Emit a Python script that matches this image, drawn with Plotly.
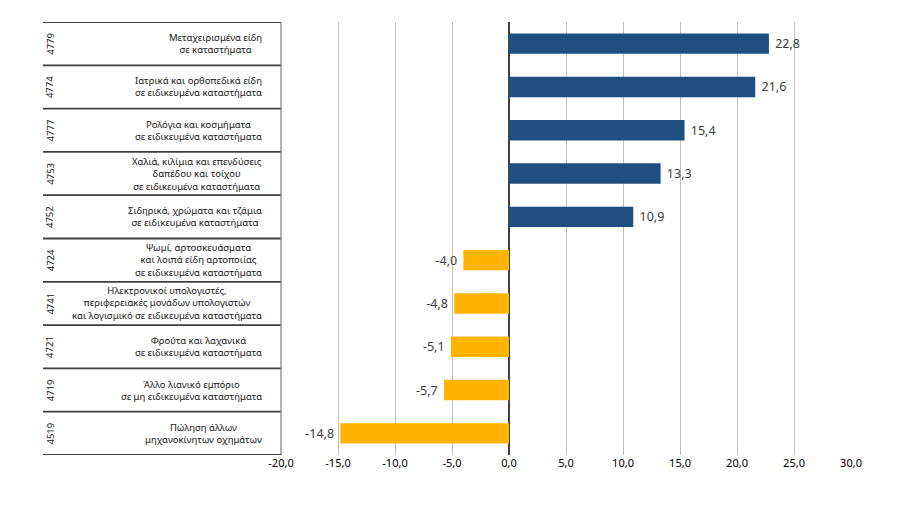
import plotly.graph_objects as go

# Κωδικοί κλάδων και περιγραφές (από πάνω προς τα κάτω)
codes = ['4779', '4774', '4777', '4753', '4752', '4724', '4741', '4721', '4719', '4519']
labels = [
    'Μεταχειρισμένα είδη<br>σε καταστήματα',
    'Ιατρικά και ορθοπεδικά είδη<br>σε ειδικευμένα καταστήματα',
    'Ρολόγια και κοσμήματα<br>σε ειδικευμένα καταστήματα',
    'Χαλιά, κιλίμια και επενδύσεις<br>δαπέδου και τοίχου<br>σε ειδικευμένα καταστήματα',
    'Σιδηρικά, χρώματα και τζάμια<br>σε ειδικευμένα καταστήματα',
    'Ψωμί, αρτοσκευάσματα<br>και λοιπά είδη αρτοποιίας<br>σε ειδικευμένα καταστήματα',
    'Ηλεκτρονικοί υπολογιστές,<br>περιφερειακές μονάδων υπολογιστών<br>και λογισμικό σε ειδικευμένα καταστήματα',
    'Φρούτα και λαχανικά<br>σε ειδικευμένα καταστήματα',
    'Άλλο λιανικό εμπόριο<br>σε μη ειδικευμένα καταστήματα',
    'Πώληση άλλων<br>μηχανοκίνητων οχημάτων',
]
changes = [22.8, 21.6, 15.4, 13.3, 10.9, -4.0, -4.8, -5.1, -5.7, -14.8]

tick_vals = [-20, -15, -10, -5, 0, 5, 10, 15, 20, 25, 30]
tick_labels = ['-20,0', '-15,0', '-10,0', '-5,0', '0,0', '5,0', '10,0',
               '15,0', '20,0', '25,0', '30,0']

BLUE = '#1F4E80'
ORANGE = '#FFB400'
FONT = 'Noto Sans'
NBSP = '\u00a0'

colors = [BLUE if v >= 0 else ORANGE for v in changes]
texts = []
for v in changes:
    s = f'{v:.1f}'.replace('.', ',')
    texts.append(NBSP + s if v >= 0 else s + NBSP)

fig = go.Figure()
fig.add_trace(go.Bar(
    x=changes,
    y=codes,
    orientation='h',
    marker=dict(color=colors, line=dict(width=0)),
    width=0.47,
    text=texts,
    textposition='outside',
    textfont=dict(family=FONT, size=12.5, color='#404040'),
    cliponaxis=False,
    hoverinfo='skip',
))

# Πίνακας αριστερά: γραμμές, κωδικοί και περιγραφές
TABLE_LEFT = -0.4175
shapes = []
for i in range(len(codes) + 1):
    shapes.append(dict(type='line', xref='paper', yref='y',
                       x0=TABLE_LEFT, x1=0, y0=i - 0.5, y1=i - 0.5,
                       line=dict(color='#404040', width=1.8)))
shapes.append(dict(type='line', xref='paper', yref='y',
                   x0=0, x1=0, y0=-0.5, y1=len(codes) - 0.5,
                   line=dict(color='#7F7F7F', width=1.2)))

annotations = []
for i, (code, lab) in enumerate(zip(codes, labels)):
    annotations.append(dict(xref='paper', yref='y', x=-0.405, y=i,
                            xanchor='center',
                            text=code, showarrow=False, textangle=-90,
                            font=dict(family=FONT, size=9.5, color='#202020')))
    annotations.append(dict(xref='paper', yref='y', x=-0.03, y=i,
                            text=lab, showarrow=False, xanchor='right',
                            align='center',
                            font=dict(family=FONT, size=9.5, color='#202020')))

fig.update_layout(
    width=897, height=508,
    margin=dict(l=273, r=54, t=14, b=61),
    paper_bgcolor='white', plot_bgcolor='white',
    showlegend=False,
    shapes=shapes,
    annotations=annotations,
    xaxis=dict(
        range=[-20, 30],
        tickvals=tick_vals, ticktext=tick_labels,
        showgrid=True, gridcolor='#C0C0C0', gridwidth=1.2,
        zeroline=True, zerolinecolor='#404040', zerolinewidth=1.5,
        showline=False, ticks='',
        tickfont=dict(family=FONT, size=11, color='#000000'),
        fixedrange=True,
    ),
    yaxis=dict(
        type='category',
        categoryorder='array', categoryarray=codes,
        range=[len(codes) - 0.5, -0.5],
        showticklabels=False, showgrid=False, zeroline=False, ticks='',
        fixedrange=True,
    ),
)

fig.write_html('out.html')
